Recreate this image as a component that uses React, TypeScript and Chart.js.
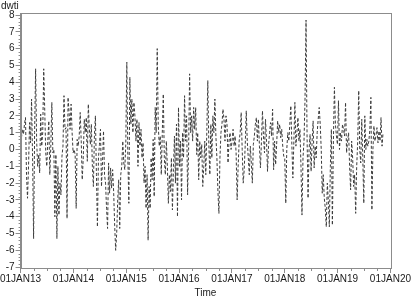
import React, { useEffect, useRef } from "react";
import { Chart, registerables } from "chart.js";

Chart.register(...registerables);

// ---- data (weekly dwti values) ----
const START_DATE = [2013, 0, 7]; // first weekly observation
const X_TICK_YEARS = [2013, 2014, 2015, 2016, 2017, 2018, 2019, 2020];
const X_TICK_LABELS = ["01JAN13", "01JAN14", "01JAN15", "01JAN16", "01JAN17", "01JAN18", "01JAN19", "01JAN20"];
const Y_TICKS = [-7, -6, -5, -4, -3, -2, -1, 0, 1, 2, 3, 4, 5, 6, 7, 8];

const dwti2013 = [
  0.7, 1.2, 0.9, 1.5, 1.9, -1.5, -2.9, -1.0, 1.6, 0.4, 3.0, -0.5, -5.3, 1.0, 4.8, 0.5,
  -1.0, -0.3, -1.4, 2.1, 0.2, 1.0, 4.8, 2.3, -0.2, -1.0, 0.5, 1.7, -1.5, 0.2, 2.8, -0.2,
  0.0, -4.0, -0.3, -5.3, -1.0, -3.9, -2.0, -2.7, -0.4, 0.2, 3.2, 1.2, 1.3, -4.1, 3.1, 2.2,
  1.2, 2.7, 1.0, -0.2,
];
const dwti2014 = [
  0.0, -0.3, -3.5, 0.6, 0.2, 0.8, 2.2, 0.5, -1.8, -0.5, 1.8, 1.0, 1.9, -0.7, 2.7, 1.2,
  0.3, 1.5, -1.0, -2.2, 0.8, 2.0, -1.5, -4.6, -0.5, 0.3, 1.2, -2.2, -0.8, 1.1, -1.5, -2.0,
  -3.5, -4.7, -0.8, -2.6, -1.1, -2.3, -1.2, -2.5, -4.5, -6.0, -5.0, -3.0, -1.8, -4.7, -1.5, -1.0,
  0.5, -0.8, -1.2, 0.4,
];
const dwti2015 = [
  5.2, -0.5, -3.2, 4.3, 1.5, 3.0, 1.0, 2.8, 2.0, 0.5, 1.8, -1.0, 1.6, 0.2, 1.2, -0.5,
  0.4, -2.0, -1.0, -3.5, -1.5, -5.4, -2.2, -3.5, -0.5, -1.8, 0.6, -2.8, 2.5, 1.0, 6.0, 1.5,
  0.2, 0.8, -1.5, 1.0, 3.3, -0.5, -1.5, 0.5, -1.0, -3.2, -1.5, -2.5, -0.5, -3.6, -1.2, 0.8,
  -2.0, 1.5, -4.0, 2.5,
];
const dwti2016 = [
  -1.0, 0.5, -3.0, 1.0, -0.5, 3.2, 0.5, 2.0, -2.7, 0.0, 4.5, 1.0, 2.0, 0.5, 2.5, 1.2,
  2.5, -0.3, 1.0, -1.8, 0.5, -0.5, 0.3, -2.2, -1.0, 0.5, -1.5, 1.0, 4.1, 0.3, -1.5, 1.5,
  -0.5, 2.0, 1.0, 3.0, 0.8, -0.5, -2.5, -3.8, -0.5, 1.0, 1.5, 2.4, 1.8, 0.5, 2.0, 1.5,
  -0.8, 0.5, 1.0, 0.0,
];
const dwti2017 = [
  0.5, 1.2, 0.2, 0.8, -0.2, -3.0, -1.0, 0.5, 1.0, 2.2, 0.0, -2.0, -1.2, 0.3, 2.3, 0.5,
  -0.5, -1.5, 0.2, -0.8, -2.0, 0.3, 0.8, 1.5, 1.9, 0.5, 1.8, 0.2, -1.1, 0.5, 2.3, 0.8,
  -0.2, 1.8, 0.5, -1.3, 0.2, 1.0, 1.6, 0.8, 2.4, -1.2, 0.5, -0.9, 0.3, 1.7, 1.0, 1.5,
  0.7, 1.2, 0.2, -0.4,
];
const dwti2018 = [
  -0.5, -3.2, 0.0, 1.0, 0.5, 1.5, 2.6, 0.3, -1.7, 0.5, 2.8, 0.2, 1.0, 1.9, 0.5, 1.2,
  -1.0, -3.9, -0.5, 0.5, 3.0, 7.7, 0.8, -2.9, 0.0, 0.9, -1.3, 0.5, 1.7, -1.1, 0.2, -0.5,
  1.0, 1.8, 2.5, 1.5, 0.0, -2.6, -1.5, -2.9, -3.5, -4.6, -2.0, -3.0, -4.6, -1.0, 1.2, -4.5,
  0.5, 3.7, 1.5, 0.8, 0.3,
];
const dwti2019 = [
  2.9, 0.0, 1.0, 0.5, 1.5, 1.2, 0.8, 2.8, -0.2, 0.5, 1.0, -1.0, -2.4, 0.5, -0.5, -2.2,
  -1.5, -3.8, -1.0, 0.5, 3.5, 0.0, -0.8, 1.8, -0.5, -3.2, 2.0, 0.0, 0.6, 0.2, 0.5, 1.2,
  3.1, -3.6, 0.0, 1.4, 0.5, 0.8, 1.3, 0.4, 1.1, 0.5, 1.9, 0.2, 1.0,
];

const ALL_VALUES = [
  ...dwti2013, ...dwti2014, ...dwti2015, ...dwti2016, ...dwti2017, ...dwti2018, ...dwti2019,
];

function weekToYearFraction(i: number): number {
  const ms = Date.UTC(START_DATE[0], START_DATE[1], START_DATE[2]) + i * 7 * 86400000;
  const d = new Date(ms);
  const y = d.getUTCFullYear();
  const y0 = Date.UTC(y, 0, 1);
  const y1 = Date.UTC(y + 1, 0, 1);
  return y + (ms - y0) / (y1 - y0);
}

const FONT = { family: "'Liberation Sans', Arial, sans-serif", size: 10 };
const AXIS_COLOR = "#8c8c8c";
const TEXT_COLOR = "#1a1a1a";

const framePlugin = {
  id: "framePlugin",
  afterDraw(chart: any) {
    const { ctx, chartArea } = chart;
    const xs = chart.scales.x;
    const ys = chart.scales.y;
    ctx.save();
    ctx.strokeStyle = AXIS_COLOR;
    ctx.lineWidth = 1;
    ctx.strokeRect(
      Math.round(chartArea.left) + 0.5,
      Math.round(chartArea.top) + 0.5,
      Math.round(chartArea.right - chartArea.left),
      Math.round(chartArea.bottom - chartArea.top)
    );
    ctx.beginPath();
    for (let yr = 2013; yr < 2020; yr++) {
      for (let q = 1; q < 4; q++) {
        const px = Math.round(xs.getPixelForValue(yr + q / 4)) + 0.5;
        ctx.moveTo(px, chartArea.bottom);
        ctx.lineTo(px, chartArea.bottom + 3);
      }
    }
    for (let v = -7; v < 8; v++) {
      for (let k = 1; k < 5; k++) {
        const py = Math.round(ys.getPixelForValue(v + k / 5)) + 0.5;
        ctx.moveTo(chartArea.left - 2, py);
        ctx.lineTo(chartArea.left, py);
      }
    }
    ctx.stroke();
    ctx.fillStyle = TEXT_COLOR;
    ctx.font = `${FONT.size}px ${FONT.family}`;
    ctx.textBaseline = "middle";
    ctx.textAlign = "left";
    ctx.fillText("dwti", 1, 6);
    ctx.textAlign = "center";
    ctx.fillText("Time", (chartArea.left + chartArea.right) / 2, 293);
    ctx.restore();
  },
};

export default function App() {
  const ref = useRef<HTMLCanvasElement>(null);
  useEffect(() => {
    const points = ALL_VALUES.map((v, i) => ({ x: weekToYearFraction(i), y: v }));
    const chart = new Chart(ref.current as HTMLCanvasElement, {
      type: "line",
      data: {
        datasets: [
          {
            label: "dwti",
            data: points,
            borderColor: "#3c3c3c",
            borderWidth: 1,
            borderDash: [3, 2],
            pointRadius: 0,
            tension: 0,
            fill: false,
          },
        ],
      },
      options: {
        animation: false,
        responsive: false,
        maintainAspectRatio: false,
        layout: { padding: { top: 13, right: 20, left: 0, bottom: 0 } },
        plugins: { legend: { display: false }, tooltip: { enabled: false }, title: { display: false } },
        scales: {
          x: {
            type: "linear",
            min: 2013,
            max: 2020,
            afterBuildTicks: (s: any) => {
              s.ticks = X_TICK_YEARS.map((v) => ({ value: v }));
            },
            afterFit: (s: any) => {
              s.height = 32;
            },
            ticks: {
              callback: (v: any) => X_TICK_LABELS[X_TICK_YEARS.indexOf(Number(v))] ?? "",
              maxRotation: 0,
              autoSkip: false,
              padding: 0,
              color: TEXT_COLOR,
              font: FONT,
            },
            grid: { display: true, drawOnChartArea: false, drawTicks: true, tickLength: 5, color: AXIS_COLOR },
            border: { display: true, color: AXIS_COLOR },
          },
          y: {
            type: "linear",
            min: -7.05,
            max: 8.12,
            afterBuildTicks: (s: any) => {
              s.ticks = Y_TICKS.map((v) => ({ value: v }));
            },
            afterFit: (s: any) => {
              s.width = 20;
            },
            ticks: {
              callback: (v: any) => String(v),
              padding: 1,
              color: TEXT_COLOR,
              font: FONT,
              autoSkip: false,
            },
            grid: { display: true, drawOnChartArea: false, drawTicks: true, tickLength: 5, color: AXIS_COLOR },
            border: { display: true, color: AXIS_COLOR },
          },
        },
      },
      plugins: [framePlugin],
    });
    return () => chart.destroy();
  }, []);

  return (
    <div style={{ position: "fixed", left: 0, top: 0, width: 411, height: 300, background: "#fff" }}>
      <canvas ref={ref} width={411} height={300} style={{ width: 411, height: 300, display: "block" }} />
    </div>
  );
}
